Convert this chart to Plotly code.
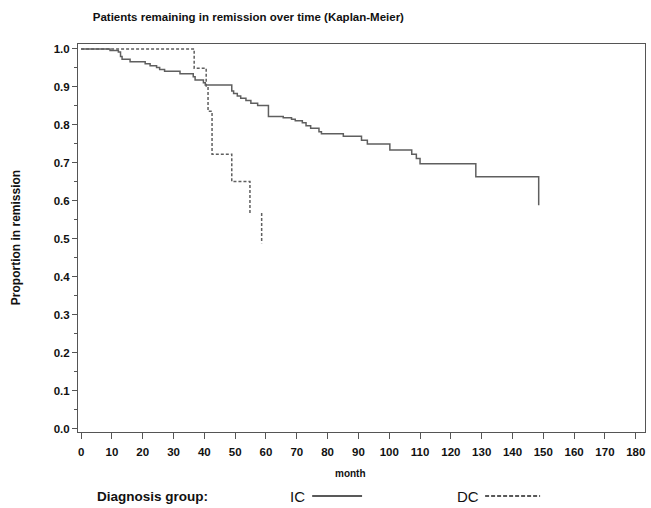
import plotly.graph_objects as go

# Kaplan-Meier step data
IC_time = [0, 9.4, 12.1, 12.8, 13.3, 15.9, 20.8, 22.4, 24.5, 25.5, 27.1, 32.1, 36.4, 37.0,
           39.7, 40.3, 48.9, 49.5, 50.7, 51.8, 53.5, 55.1, 57.3, 60.8, 65.6, 68.3, 69.5,
           71.8, 73.0, 74.5, 77.2, 78.0, 85.1, 91.0, 92.9, 100.2, 107.3, 108.8, 110.0,
           128.1, 148.5]
IC_surv = [1.0, 0.996, 0.992, 0.980, 0.973, 0.966, 0.961, 0.956, 0.951, 0.946, 0.941, 0.935,
           0.927, 0.918, 0.911, 0.905, 0.889, 0.883, 0.876, 0.870, 0.864, 0.857, 0.851,
           0.822, 0.819, 0.815, 0.811, 0.806, 0.798, 0.791, 0.782, 0.777, 0.770, 0.760,
           0.750, 0.734, 0.723, 0.712, 0.698, 0.664, 0.589]

DC_time = [0, 36.7, 40.6, 41.2, 42.5, 48.9, 54.8, 58.6]
DC_surv = [1.0, 0.949, 0.900, 0.836, 0.723, 0.651, 0.568, 0.489]
DC_break_before = 58.6  # horizontal segment leading to this time is not drawn

x_ticks = list(range(0, 181, 10))
y_ticks = [i / 10 for i in range(0, 11)]


def step_path(times, surv, break_before=None):
    xs, ys = [times[0]], [surv[0]]
    for i in range(1, len(times)):
        if break_before is not None and times[i] == break_before:
            xs += [None, times[i], times[i]]
            ys += [None, surv[i - 1], surv[i]]
        else:
            xs += [times[i], times[i]]
            ys += [surv[i - 1], surv[i]]
    return xs, ys


ic_x, ic_y = step_path(IC_time, IC_surv)
dc_x, dc_y = step_path(DC_time, DC_surv, DC_break_before)

LINE = "#5f5f5f"
AX = "#555555"
FAM = "Liberation Sans, Arial, sans-serif"
bold = dict(family=FAM, size=11.5, color="#111111", weight="bold")

fig = go.Figure()
fig.add_trace(go.Scatter(x=ic_x, y=ic_y, mode="lines", name="IC",
                         line=dict(color=LINE, width=1.5), connectgaps=False))
fig.add_trace(go.Scatter(x=dc_x, y=dc_y, mode="lines", name="DC",
                         line=dict(color=LINE, width=1.5, dash="3px,2px"), connectgaps=False))

fig.update_layout(
    width=651, height=508,
    margin=dict(l=78, r=6, t=44, b=76),
    paper_bgcolor="white", plot_bgcolor="white",
    showlegend=False,
    title=dict(text="Patients remaining in remission over time (Kaplan-Meier)",
               x=0.026, xref="paper", xanchor="left",
               y=1 - 17 / 508, yref="container", yanchor="middle",
               font=dict(family=FAM, size=11.5, color="#111111", weight="bold")),
)

fig.update_xaxes(range=[-1, 183], tickvals=x_ticks, ticks="outside", ticklen=6,
                 ticklabelstandoff=3,
                 tickcolor=AX, tickfont=bold, showgrid=False, zeroline=False,
                 showline=True, linecolor=AX, linewidth=1, mirror=True)
fig.update_yaxes(range=[-0.008, 1.013], tickvals=y_ticks, tickformat=".1f",
                 ticks="outside", ticklen=5, tickcolor=AX, tickfont=bold,
                 minor=dict(dtick=0.05, tick0=0.05, ticks="outside", ticklen=3, tickcolor=AX,
                            showgrid=False),
                 showgrid=False, zeroline=False,
                 showline=True, linecolor=AX, linewidth=1, mirror=True)

# axis titles
fig.add_annotation(text="month", xref="paper", yref="paper", x=0.481, y=-0.108,
                   xanchor="center", yanchor="middle", showarrow=False,
                   font=dict(family=FAM, size=10, color="#111111", weight="bold"))
fig.add_annotation(text="Proportion in remission", xref="paper", yref="paper",
                   x=-0.109, y=0.5, xanchor="center", yanchor="middle",
                   textangle=-90, showarrow=False,
                   font=dict(family=FAM, size=12, color="#111111", weight="bold"))

# legend row
fig.add_annotation(text="Diagnosis group:", xref="paper", yref="paper", x=0.030, y=-0.1675,
                   xanchor="left", yanchor="middle", showarrow=False,
                   font=dict(family=FAM, size=13.5, color="#111111", weight="bold"))
fig.add_annotation(text="IC", xref="paper", yref="paper", x=0.370, y=-0.1675,
                   xanchor="left", yanchor="middle", showarrow=False,
                   font=dict(family=FAM, size=15, color="#111111"))
fig.add_annotation(text="DC", xref="paper", yref="paper", x=0.665, y=-0.1675,
                   xanchor="left", yanchor="middle", showarrow=False,
                   font=dict(family=FAM, size=15, color="#111111"))
fig.add_shape(type="line", xref="paper", yref="paper", x0=0.413, x1=0.501, y0=-0.165, y1=-0.165,
              line=dict(color="#222222", width=1.3))
fig.add_shape(type="line", xref="paper", yref="paper", x0=0.718, x1=0.815, y0=-0.165, y1=-0.165,
              line=dict(color="#222222", width=1.3, dash="4px,2px"))

# remove the page's default body margin so the figure fills the window exactly
fig.write_html("out.html",
               config={"displayModeBar": False},
               post_script="document.documentElement.style.overflow='hidden';"
                           "document.body.style.margin='0';"
                           "document.body.style.overflow='hidden';")
